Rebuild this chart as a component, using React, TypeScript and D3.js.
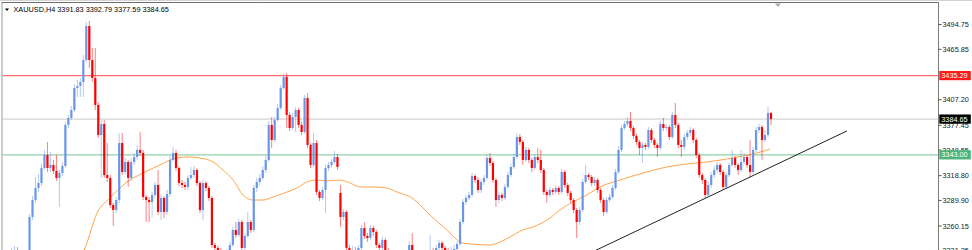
import React, { useEffect } from 'react';
import * as d3 from 'd3';

// ---- DATA (XAUUSD, H4) ----
const firstOpen = 3218.3;
const gapIndex = [112];
const gapOpen = [3298.6];

const closes = [
  3220.6, 3224.1, 3229.9, 3232.2, 3229.9, 3226.4, 3222.9, 3225.2, 3270.7, 3290.4,
  3304.4, 3310.2, 3327.7, 3342.8, 3327.7, 3331.2, 3324.2, 3316.1, 3321.9, 3330.0,
  3377.8, 3385.9, 3395.2, 3420.8, 3423.2, 3427.8, 3453.4, 3493.0, 3453.4, 3432.5,
  3401.1, 3366.1, 3378.9, 3319.5, 3316.1, 3284.6, 3278.8, 3290.4, 3356.8, 3323.0,
  3334.7, 3316.1, 3334.7, 3340.5, 3348.7, 3345.2, 3293.9, 3290.4, 3288.1, 3296.3,
  3307.9, 3276.5, 3292.8, 3276.5, 3297.4, 3337.0, 3345.2, 3327.7, 3310.2, 3307.9,
  3305.6, 3316.1, 3319.5, 3325.4, 3310.2, 3278.8, 3310.2, 3304.4, 3292.8, 3238.0,
  3234.6, 3232.2, 3227.6, 3225.2, 3229.9, 3238.0, 3255.5, 3249.7, 3264.8, 3234.6,
  3248.5, 3264.8, 3255.5, 3304.4, 3311.4, 3316.1, 3325.4, 3337.0, 3377.8, 3360.3,
  3383.6, 3397.6, 3420.8, 3433.7, 3389.4, 3374.3, 3387.1, 3395.2, 3377.8, 3369.6,
  3409.2, 3354.5, 3331.2, 3356.8, 3299.8, 3292.8, 3302.1, 3327.7, 3331.2, 3334.7,
  3340.5, 3328.9, 3270.7, 3276.5, 3234.6, 3229.9, 3232.2, 3227.6, 3234.6, 3257.8,
  3248.5, 3246.2, 3257.8, 3253.2, 3238.0, 3234.6, 3243.9, 3232.2, 3226.4, 3222.9,
  3220.6, 3218.3, 3219.4, 3222.9, 3226.4, 3238.0, 3229.9, 3225.2, 3222.9, 3220.6,
  3221.7, 3222.9, 3232.2, 3227.6, 3234.6, 3240.4, 3234.6, 3232.2, 3228.7, 3232.2,
  3233.4, 3239.2, 3264.8, 3288.1, 3292.8, 3296.3, 3318.4, 3313.7, 3302.1, 3311.4,
  3316.1, 3339.3, 3333.5, 3313.7, 3290.4, 3296.3, 3292.8, 3305.6, 3319.5, 3328.9,
  3340.5, 3363.8, 3358.0, 3337.0, 3348.7, 3337.0, 3327.7, 3340.5, 3337.0, 3325.4,
  3299.8, 3296.3, 3302.1, 3299.8, 3304.4, 3299.8, 3323.0, 3307.9, 3298.6, 3290.4,
  3278.8, 3264.8, 3278.8, 3311.4, 3319.5, 3317.2, 3310.2, 3313.7, 3302.1, 3290.4,
  3276.5, 3290.4, 3293.9, 3304.4, 3323.0, 3348.7, 3374.3, 3378.9, 3382.4, 3374.3,
  3365.0, 3358.0, 3351.0, 3354.5, 3352.2, 3371.9, 3360.3, 3354.5, 3351.0, 3378.9,
  3374.3, 3375.4, 3363.8, 3389.4, 3377.8, 3354.5, 3352.2, 3363.8, 3368.5, 3371.9,
  3360.3, 3342.8, 3319.5, 3313.7, 3296.3, 3307.9, 3319.5, 3325.4, 3331.2, 3323.0,
  3305.6, 3319.5, 3331.2, 3339.3, 3331.2, 3325.4, 3334.7, 3340.5, 3331.2, 3323.0,
  3348.7, 3371.9, 3375.4, 3360.3, 3366.1, 3391.83, 3384.65,
];

const highs = [
  3224.1, 3227.6, 3234.6, 3236.9, 3235.7, 3232.2, 3228.7, 3229.9, 3274.1, 3295.1,
  3317.2, 3320.7, 3332.4, 3348.7, 3358.0, 3346.3, 3337.0, 3342.8, 3325.4, 3334.7,
  3381.3, 3389.4, 3399.9, 3425.5, 3430.2, 3432.5, 3459.3, 3497.7, 3498.9, 3467.4,
  3467.4, 3404.5, 3383.6, 3383.6, 3356.8, 3319.5, 3287.0, 3293.9, 3368.5, 3368.5,
  3339.3, 3337.0, 3339.3, 3345.2, 3354.5, 3369.6, 3348.7, 3296.3, 3293.9, 3299.8,
  3311.4, 3325.4, 3296.3, 3295.1, 3302.1, 3341.7, 3352.2, 3348.7, 3330.0, 3313.7,
  3311.4, 3319.5, 3328.9, 3330.0, 3327.7, 3312.6, 3313.7, 3312.6, 3306.7, 3295.1,
  3240.4, 3236.9, 3234.6, 3229.9, 3233.4, 3241.5, 3259.0, 3264.8, 3268.3, 3267.2,
  3252.0, 3276.5, 3267.2, 3307.9, 3316.1, 3320.7, 3330.0, 3341.7, 3382.4, 3387.1,
  3387.1, 3402.2, 3424.3, 3438.3, 3438.3, 3392.9, 3391.7, 3398.7, 3397.6, 3381.3,
  3412.7, 3415.0, 3356.8, 3368.5, 3360.3, 3302.1, 3305.6, 3331.2, 3334.7, 3338.2,
  3347.5, 3344.0, 3307.9, 3280.0, 3278.8, 3238.0, 3236.9, 3235.7, 3238.0, 3261.3,
  3264.8, 3252.0, 3261.3, 3260.2, 3255.5, 3240.4, 3247.4, 3246.2, 3234.6, 3228.7,
  3226.4, 3224.1, 3224.1, 3226.4, 3229.9, 3242.7, 3252.0, 3232.2, 3227.6, 3226.4,
  3226.4, 3227.6, 3249.7, 3234.6, 3238.0, 3243.9, 3242.7, 3236.9, 3234.6, 3235.7,
  3238.0, 3242.7, 3268.3, 3291.6, 3296.3, 3299.8, 3321.9, 3320.7, 3317.2, 3314.9,
  3319.5, 3342.8, 3345.2, 3335.9, 3316.1, 3299.8, 3298.6, 3309.1, 3323.0, 3332.4,
  3344.0, 3368.5, 3367.3, 3360.3, 3352.2, 3351.0, 3339.3, 3344.0, 3351.0, 3348.7,
  3327.7, 3302.1, 3305.6, 3304.4, 3307.9, 3306.7, 3326.5, 3325.4, 3310.2, 3300.9,
  3292.8, 3281.1, 3282.3, 3314.9, 3331.2, 3321.9, 3319.5, 3317.2, 3316.1, 3304.4,
  3292.8, 3293.9, 3297.4, 3307.9, 3326.5, 3353.3, 3377.8, 3382.4, 3387.1, 3392.9,
  3376.6, 3367.3, 3360.3, 3358.0, 3356.8, 3375.4, 3374.3, 3362.6, 3356.8, 3382.4,
  3385.9, 3378.9, 3377.8, 3392.9, 3403.4, 3380.1, 3360.3, 3367.3, 3371.9, 3375.4,
  3374.3, 3362.6, 3345.2, 3321.9, 3316.1, 3311.4, 3323.0, 3330.0, 3334.7, 3333.5,
  3325.4, 3323.0, 3334.7, 3348.7, 3341.7, 3333.5, 3348.7, 3345.2, 3342.8, 3360.3,
  3352.2, 3375.4, 3378.9, 3377.8, 3371.9, 3398.7, 3392.79,
];

const lows = [
  3214.8, 3218.3, 3221.7, 3226.4, 3226.4, 3222.9, 3219.4, 3220.6, 3222.9, 3267.2,
  3287.0, 3299.8, 3306.7, 3325.4, 3323.0, 3323.0, 3320.7, 3312.6, 3282.3, 3318.4,
  3327.7, 3374.3, 3383.6, 3392.9, 3410.4, 3410.4, 3410.4, 3451.1, 3444.1, 3427.8,
  3395.2, 3362.6, 3316.1, 3316.1, 3311.4, 3281.1, 3260.2, 3275.3, 3287.0, 3319.5,
  3319.5, 3305.6, 3312.6, 3331.2, 3337.0, 3341.7, 3290.4, 3264.8, 3264.8, 3270.7,
  3292.8, 3273.0, 3267.2, 3269.5, 3273.0, 3293.9, 3334.7, 3324.2, 3306.7, 3304.4,
  3302.1, 3302.1, 3313.7, 3316.1, 3306.7, 3275.3, 3267.2, 3300.9, 3289.3, 3234.6,
  3229.9, 3226.4, 3224.1, 3221.7, 3222.9, 3227.6, 3235.7, 3246.2, 3247.4, 3231.1,
  3232.2, 3246.2, 3252.0, 3253.2, 3299.8, 3307.9, 3313.7, 3321.9, 3334.7, 3351.0,
  3358.0, 3381.3, 3395.2, 3418.5, 3374.3, 3370.8, 3371.9, 3369.6, 3374.3, 3366.1,
  3367.3, 3351.0, 3327.7, 3328.9, 3296.3, 3289.3, 3290.4, 3275.3, 3324.2, 3327.7,
  3332.4, 3325.4, 3259.0, 3267.2, 3231.1, 3226.4, 3226.4, 3224.1, 3225.2, 3232.2,
  3245.0, 3241.5, 3243.9, 3248.5, 3234.6, 3231.1, 3232.2, 3228.7, 3222.9, 3218.3,
  3215.9, 3213.6, 3214.8, 3217.1, 3220.6, 3224.1, 3226.4, 3221.7, 3218.3, 3217.1,
  3217.1, 3218.3, 3220.6, 3224.1, 3225.2, 3232.2, 3231.1, 3228.7, 3225.2, 3225.2,
  3228.7, 3231.1, 3236.9, 3262.5, 3284.6, 3290.4, 3293.9, 3310.2, 3298.6, 3298.6,
  3307.9, 3313.7, 3330.0, 3310.2, 3282.3, 3287.0, 3289.3, 3290.4, 3303.2, 3317.2,
  3326.5, 3338.2, 3354.5, 3331.2, 3334.7, 3333.5, 3323.0, 3325.4, 3333.5, 3321.9,
  3296.3, 3287.0, 3293.9, 3296.3, 3297.4, 3296.3, 3297.4, 3304.4, 3295.1, 3287.0,
  3275.3, 3246.2, 3261.3, 3276.5, 3309.1, 3313.7, 3306.7, 3306.7, 3298.6, 3287.0,
  3271.8, 3274.1, 3288.1, 3291.6, 3302.1, 3320.7, 3346.3, 3371.9, 3376.6, 3370.8,
  3361.5, 3354.5, 3342.8, 3333.5, 3348.7, 3349.8, 3356.8, 3351.0, 3340.5, 3348.7,
  3370.8, 3370.8, 3360.3, 3361.5, 3374.3, 3351.0, 3340.5, 3348.7, 3360.3, 3365.0,
  3356.8, 3339.3, 3316.1, 3309.1, 3292.8, 3293.9, 3304.4, 3316.1, 3321.9, 3319.5,
  3302.1, 3303.2, 3317.2, 3328.9, 3327.7, 3319.5, 3323.0, 3332.4, 3327.7, 3316.1,
  3320.7, 3346.3, 3368.5, 3337.0, 3358.0, 3363.8, 3377.59,
];

// Moving average (orange), read at bar positions
const maIdx = [25, 26.6, 30.6, 34.9, 40.6, 46.0, 51.6, 56.0, 60.7, 65.0, 69.4, 72.7, 76.1, 79.4, 82.7, 86.1, 89.4, 94.1, 97.5, 100.8, 104.1, 107.5, 111.8, 115.2, 118.5, 122.9, 127.6, 130.9, 135.9, 139.3, 142.6, 146.9, 150.3, 152.6, 155.3, 162.0, 165.4, 168.7, 173.0, 176.4, 182.1, 185.4, 189.8, 194.4, 198.8, 205.5, 213.2, 221.2, 227.9, 234.6, 241.3, 246.6, 251.3, 255.7];
const maVal = [3222.0, 3234.6, 3275.3, 3292.8, 3311.4, 3321.9, 3331.2, 3338.2, 3340.5, 3339.3, 3334.7, 3325.4, 3313.7, 3296.3, 3290.4, 3290.4, 3293.9, 3299.7, 3304.4, 3311.4, 3313.7, 3312.6, 3313.7, 3310.2, 3305.6, 3305.6, 3304.4, 3299.7, 3292.8, 3282.3, 3270.6, 3257.8, 3246.2, 3240.4, 3239.2, 3238.0, 3241.5, 3247.4, 3255.5, 3259.0, 3269.5, 3278.8, 3288.1, 3296.3, 3305.6, 3313.7, 3321.9, 3328.9, 3332.4, 3334.7, 3338.2, 3341.7, 3345.2, 3349.8];

// Trend line (bar index, price)
const trendIdx = [195.5, 281.4];
const trendPrice = [3228.7, 3370.8];

// Horizontal levels
const levelPrices = [3435.29, 3384.65, 3343.0];
const levelLabels = ['3435.29', '3384.65', '3343.00'];
const levelLine = ['#ff6a6a', '#c8c8c8', '#8fd3aa'];
const levelBox = ['#ff1a1a', '#000000', '#4cb37a'];

// Price axis ticks
const tickValues = [3494.75, 3465.85, 3407.2, 3377.45, 3348.55, 3318.8, 3289.9, 3260.15, 3231.25];
const tickLabels = ['3494.75', '3465.85', '3407.20', '3377.45', '3348.55', '3318.80', '3289.90', '3260.15', '3231.25'];

const title = 'XAUUSD,H4  3391.83 3392.79 3377.59 3384.65';

const W = 972;
const H = 250;
const AXIS_X = 938.5;
const FONT = '"Liberation Sans", Arial, sans-serif';

export default function App() {
  useEffect(() => {
    document.body.style.margin = '0';
  }, []);

  const n = closes.length;
  const x = d3.scaleLinear().domain([0, n - 1]).range([5.6, 771]);
  const y = d3.scaleLinear().domain([3232.2, 3523.3]).range([250, 0]);

  const opens = closes.map((c, i) => {
    const g = gapIndex.indexOf(i);
    if (g >= 0) return gapOpen[g];
    return i === 0 ? firstOpen : closes[i - 1];
  });
  const bars = closes.map((c, i) => {
    const o = opens[i];
    return {
      i,
      o,
      c,
      h: Math.max(highs[i], o, c),
      l: Math.min(lows[i], o, c),
      up: c >= o,
    };
  });

  const maLine = d3
    .line<number>()
    .x((_, k) => x(maIdx[k]))
    .y((v) => y(v))
    .curve(d3.curveMonotoneX)(maVal) || '';

  const blue = '#6a96ea';
  const red = '#ff0000';
  const bodyW = 2.2;

  return (
    <svg
      width={W}
      height={H}
      style={{ position: 'absolute', left: 0, top: 0, display: 'block', background: '#fff' }}
    >
      <defs>
        <clipPath id="plot">
          <rect x={2.5} y={3} width={AXIS_X - 2.5} height={H - 3} />
        </clipPath>
      </defs>
      <rect x={0} y={0} width={W} height={H} fill="#ffffff" />
      <rect x={0} y={0} width={W} height={1} fill="#d4d4d4" />

      <g clipPath="url(#plot)">
        {levelPrices.map((p, k) => (
          <line
            key={'lv' + k}
            x1={2.5}
            x2={AXIS_X}
            y1={y(p)}
            y2={y(p)}
            stroke={levelLine[k]}
            strokeWidth={k === 1 ? 1 : 1.4}
          />
        ))}
        <path d={maLine} fill="none" stroke="#ffa54a" strokeWidth={1} />
        {bars.map((b) => (
          <line
            key={'w' + b.i}
            x1={x(b.i)}
            x2={x(b.i)}
            y1={y(b.h)}
            y2={y(b.l)}
            stroke={b.up ? blue : red}
            strokeOpacity={0.5}
            strokeWidth={1}
          />
        ))}
        {bars.map((b) => {
          const top = y(Math.max(b.o, b.c));
          const bot = y(Math.min(b.o, b.c));
          return (
            <rect
              key={'b' + b.i}
              x={x(b.i) - bodyW / 2}
              y={top}
              width={bodyW}
              height={Math.max(0.8, bot - top)}
              fill={b.up ? blue : red}
            />
          );
        })}
        <line
          x1={x(trendIdx[0])}
          y1={y(trendPrice[0])}
          x2={x(trendIdx[1])}
          y2={y(trendPrice[1])}
          stroke="#222"
          strokeWidth={1}
        />
      </g>

      {/* frame */}
      <line x1={1.5} x2={AXIS_X} y1={2.5} y2={2.5} stroke="#6e6e6e" strokeWidth={1} />
      <line x1={2} x2={2} y1={2.5} y2={H} stroke="#9a9a9a" strokeWidth={1} />
      <line x1={AXIS_X} x2={AXIS_X} y1={2.5} y2={H} stroke="#7a7a7a" strokeWidth={1} />
      <path d="M775,3.5 L781,3.5 L778,7 Z" fill="#a8a8a8" />

      {/* title */}
      <path d="M5,8.5 L9,8.5 L7,11 Z" fill="#000" />
      <text x={13.5} y={11.8} fontFamily={FONT} fontSize={7.3} fill="#000">
        {title}
      </text>

      {/* price axis */}
      {tickValues.map((v, k) => (
        <g key={'t' + k}>
          <line x1={AXIS_X} x2={AXIS_X + 3} y1={y(v)} y2={y(v)} stroke="#555" strokeWidth={1} />
          <text x={942.5} y={y(v) + 2.6} fontFamily={FONT} fontSize={7.3} fill="#222">
            {tickLabels[k]}
          </text>
        </g>
      ))}
      {levelPrices.map((p, k) => (
        <g key={'lb' + k}>
          <rect x={939.3} y={y(p) - 4.6} width={31.5} height={9.2} fill={levelBox[k]} />
          <text x={941.3} y={y(p) + 2.6} fontFamily={FONT} fontSize={7.3} fill="#fff">
            {levelLabels[k]}
          </text>
        </g>
      ))}
    </svg>
  );
}
